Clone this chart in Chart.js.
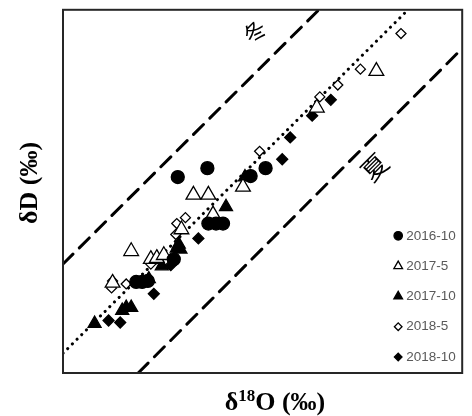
<!DOCTYPE html>
<html>
<head>
<meta charset="utf-8">
<script src="https://cdn.jsdelivr.net/npm/chart.js@4.4.0/dist/chart.umd.min.js"></script>
<style>
  body { margin: 0; background: #fff; }
  #wrap { width: 472px; height: 416px; position: relative; }
</style>
</head>
<body>
<div id="wrap"><canvas id="chart"></canvas></div>
<script>
// axis ranges (no tick labels are shown in the figure)
const xRange = [-12, 0];
const yRange = [-90, 0];

// series: [δ18O, δD]
const s2016_10 = [[-8.55, -41.44], [-7.66, -39.24], [-7.63, -52.97], [-7.40, -52.97], [-7.19, -52.97],
  [-6.36, -41.20], [-5.91, -39.24], [-9.80, -67.44], [-9.62, -67.44], [-9.45, -67.19], [-8.67, -61.80]];
const s2017_5 = [[-8.08, -45.86], [-7.63, -45.86], [-6.59, -43.90], [-7.49, -50.76], [-9.95, -59.84],
  [-9.36, -61.80], [-9.18, -61.55], [-8.97, -60.82], [-10.51, -67.68], [-2.58, -15.20], [-4.37, -24.28], [-8.44, -54.44]];
const s2017_10 = [[-11.05, -77.74], [-10.22, -74.55], [-9.95, -73.81], [-10.10, -73.81], [-9.42, -66.70],
  [-9.03, -63.51], [-8.58, -59.10], [-8.52, -58.12], [-8.47, -59.35], [-7.10, -48.80], [-6.53, -41.44]];
const s2018_5 = [[-1.84, -5.89], [-3.06, -14.71], [-3.74, -18.64], [-4.28, -21.58], [-6.09, -35.07],
  [-8.58, -52.97], [-8.32, -51.50], [-8.61, -55.67], [-9.36, -63.02], [-9.21, -61.80],
  [-10.54, -68.91], [-10.51, -67.19], [-10.10, -67.93]];
const s2018_10 = [[-3.95, -22.32], [-4.51, -26.24], [-5.17, -31.63], [-5.41, -37.03], [-7.93, -56.65],
  [-9.27, -70.38], [-10.63, -77.00], [-10.28, -77.49], [-8.76, -63.27]];

// reference lines
const lmwl = [[-12, -85.1], [-1.63, 0]];
const winterLine = [[-12, -63.0], [-4.31, 0]];
const summerLine = [[-9.74, -90], [0, -9.56]];

// labels placed in data coordinates
const winterLabel = { text: '冬', x: -6.24, y: -5.4 };
const summerLabel = { text: '夏', x: -2.64, y: -39.0 };

const toXY = arr => arr.map(p => ({ x: p[0], y: p[1] }));

function markerSet(label, data, style, radius, filled) {
  return {
    label,
    data: toXY(data),
    pointStyle: style,
    pointRadius: radius,
    pointHoverRadius: radius,
    pointBackgroundColor: filled ? '#000' : '#fff',
    pointBorderColor: '#000',
    pointBorderWidth: 1.3,
    showLine: false,
    order: 0
  };
}

function lineSet(data, dash, width) {
  return {
    data: toXY(data),
    showLine: true,
    borderColor: '#000',
    borderWidth: width,
    borderDash: dash,
    borderCapStyle: 'round',
    pointRadius: 0,
    fill: false,
    order: 10,
    isRefLine: true
  };
}

// frame, rotated labels, axis titles and legend
const decorations = {
  id: 'decorations',
  afterDraw(chart) {
    const { ctx, chartArea: a, scales } = chart;
    ctx.save();
    ctx.strokeStyle = '#262626';
    ctx.lineWidth = 2;
    ctx.strokeRect(a.left, a.top, a.right - a.left, a.bottom - a.top);

    ctx.fillStyle = '#000';
    ctx.textAlign = 'center';
    ctx.textBaseline = 'middle';
    [[winterLabel, 22], [summerLabel, 26]].forEach(([lab, size]) => {
      ctx.save();
      ctx.translate(scales.x.getPixelForValue(lab.x), scales.y.getPixelForValue(lab.y));
      ctx.rotate(-Math.PI / 4);
      ctx.font = size + 'px "Noto Sans CJK SC"';
      ctx.fillText(lab.text, 0, 0);
      ctx.restore();
    });

    // y title
    ctx.save();
    ctx.translate(30, 183);
    ctx.rotate(-Math.PI / 2);
    ctx.font = 'bold 26px "Liberation Serif"';
    ctx.fillText('δD (‰)', 0, 0);
    ctx.restore();

    // x title with superscript
    const big = 'bold 26px "Liberation Serif"';
    const small = 'bold 17px "Liberation Serif"';
    ctx.font = big; const w1 = ctx.measureText('δ').width;
    const w3 = ctx.measureText('O (‰)').width;
    ctx.font = small; const w2 = ctx.measureText('18').width;
    let x = 275 - (w1 + w2 + w3) / 2;
    const base = 410;
    ctx.textAlign = 'left';
    ctx.textBaseline = 'alphabetic';
    ctx.font = big; ctx.fillText('δ', x, base); x += w1;
    ctx.font = small; ctx.fillText('18', x, base - 9); x += w2;
    ctx.font = big; ctx.fillText('O (‰)', x, base);

    // legend
    const items = chart.data.datasets.filter(d => !d.isRefLine);
    const mx = a.right - 64, y0 = a.top + 226;
    ctx.font = '13.5px "Liberation Sans"';
    ctx.textBaseline = 'middle';
    items.forEach((d, i) => {
      const y = y0 + i * 30.3;
      ctx.fillStyle = d.pointBackgroundColor;
      ctx.strokeStyle = '#000';
      ctx.lineWidth = 1.3;
      const r = d.pointStyle === 'circle' ? 4.2 : d.pointStyle === 'triangle' ? 5 : 3.8;
      Chart.helpers.drawPoint(ctx, { pointStyle: d.pointStyle, radius: r, borderWidth: 1.3, rotation: 0 }, mx, y);
      ctx.fillStyle = '#595959';
      ctx.fillText(d.label, mx + 8, y);
    });
    ctx.restore();
  }
};

new Chart(document.getElementById('chart'), {
  type: 'scatter',
  data: {
    datasets: [
      markerSet('2016-10', s2016_10, 'circle', 6.5, true),
      markerSet('2017-5', s2017_5, 'triangle', 8.5, false),
      markerSet('2017-10', s2017_10, 'triangle', 7.5, true),
      markerSet('2018-5', s2018_5, 'rectRot', 5, false),
      markerSet('2018-10', s2018_10, 'rectRot', 5.5, true),
      lineSet(lmwl, [0.1, 6.5], 3),
      lineSet(winterLine, [14, 9], 3),
      lineSet(summerLine, [14, 9], 3)
    ]
  },
  options: {
    responsive: true,
    maintainAspectRatio: false,
    animation: false,
    layout: { padding: { left: 63, right: 5, top: 6, bottom: 43 } },
    scales: {
      x: { type: 'linear', display: false, min: xRange[0], max: xRange[1] },
      y: { type: 'linear', display: false, min: yRange[0], max: yRange[1] }
    },
    plugins: { legend: { display: false }, tooltip: { enabled: false } }
  },
  plugins: [decorations]
});
</script>
</body>
</html>
